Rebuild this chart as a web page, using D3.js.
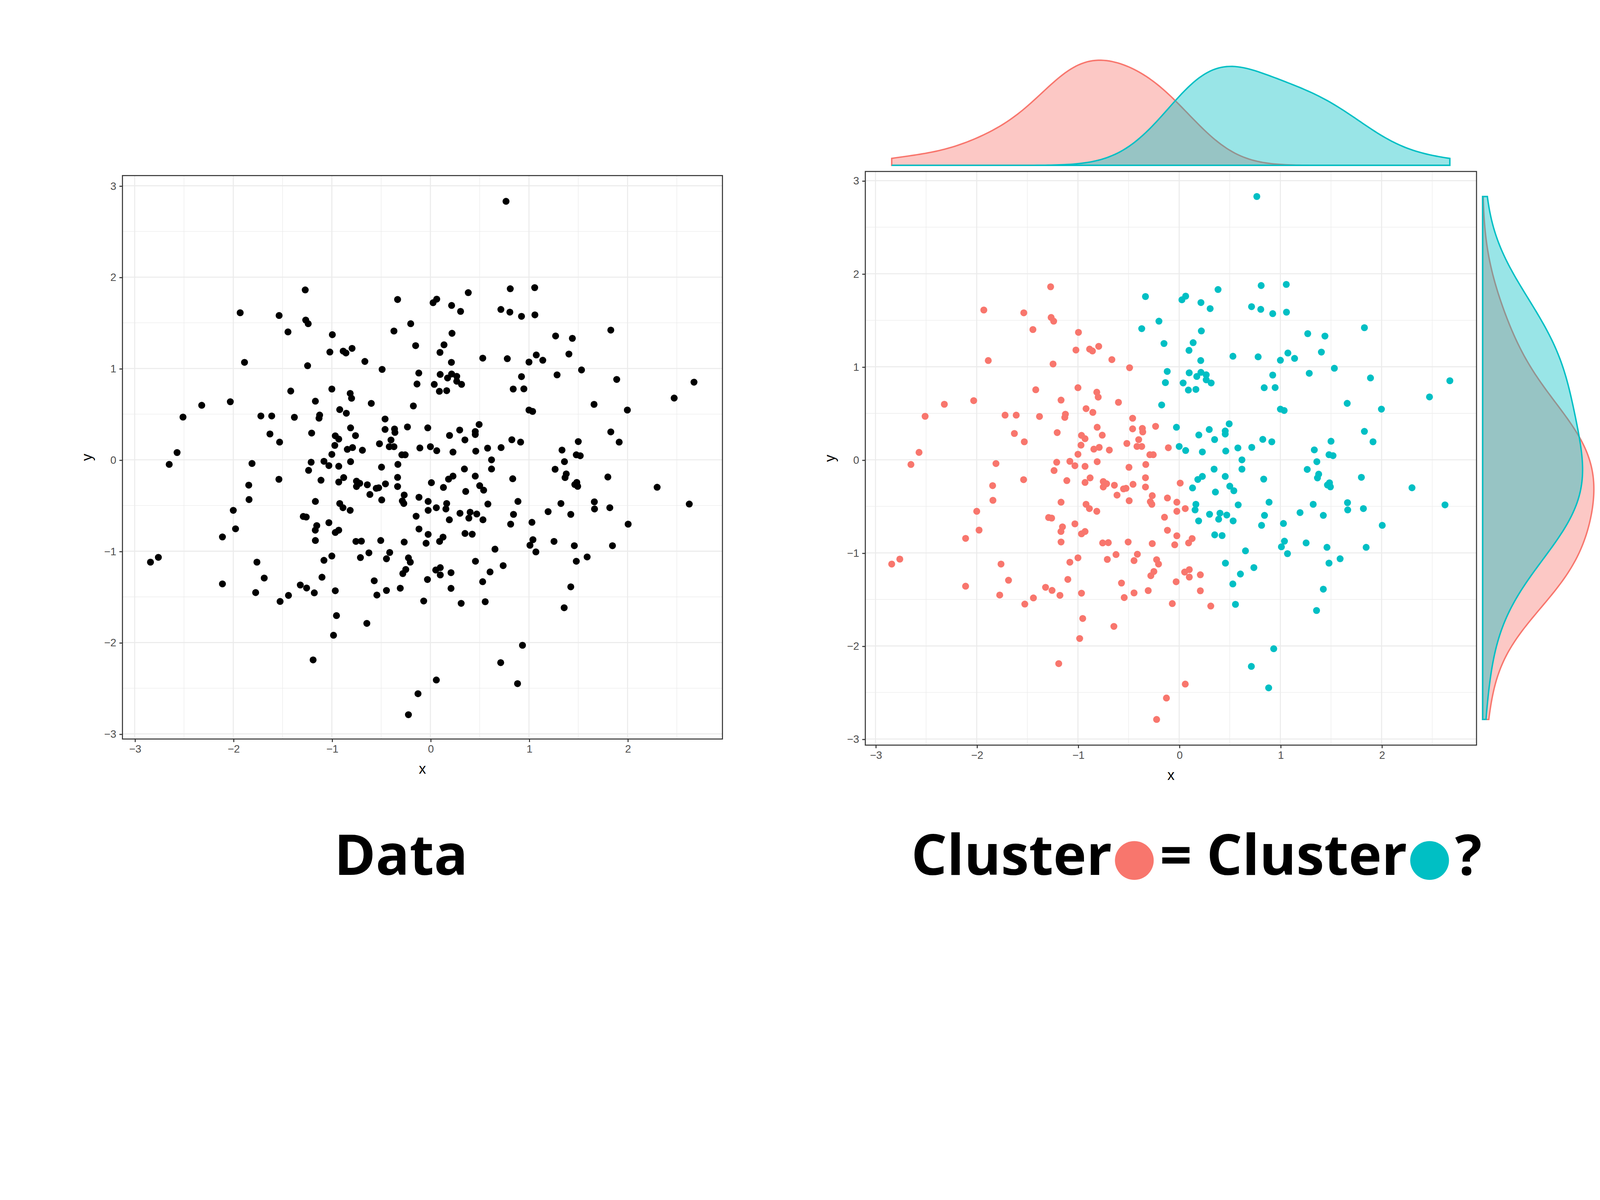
<!DOCTYPE html>
<html><head><meta charset="utf-8">
<script src="https://cdn.jsdelivr.net/npm/d3@7"></script>
<style>html,body{margin:0;padding:0;background:#fff;overflow:hidden}svg{display:block;width:100vw;height:calc(100vw * 3071 / 5540)}</style>
</head><body>
<svg id="c" viewBox="0 0 1568 869.2" preserveAspectRatio="xMidYMin meet"></svg>
<script>
// points (x, y)
var xs = [-1.27,-0.333,-1.93,-1.535,-1.265,-1.24,-0.20,-1.445,-0.37,-0.995,-0.15,-1.02,-0.885,-0.857,-0.795,-1.886,-1.246,-0.665,-0.49,-0.118,-0.136,-1.417,-1.0,-0.814,-0.80,-2.32,-2.03,-1.167,-0.60,-0.173,-2.51,-1.72,-1.61,-1.38,-1.124,-1.13,-0.92,-0.853,-0.46,-0.81,-0.364,-0.36,-0.233,-0.46,-1.628,-1.205,-0.76,-0.965,-0.93,-1.53,-0.40,-0.517,-0.97,-0.843,-0.79,-0.69,-0.417,-0.37,-0.107,-2.57,-1.0,-0.29,-0.256,
 -2.65,-1.81,-1.21,-1.08,-1.03,-0.93,-0.81,-0.496,-0.33,-1.236,-1.537,-1.843,-1.11,-0.93,-0.88,-0.75,-0.717,-0.75,-0.64,-0.55,-0.525,-0.456,-0.333,-0.333,-0.614,-0.494,-0.266,-0.285,-0.27,-0.116,-1.84,-1.167,-0.92,-0.887,-0.814,-2.0,-0.145,-1.29,-1.26,-1.153,-1.168,-1.03,-0.93,-0.965,-1.977,-0.116,-2.11,-1.167,-0.756,-0.70,-0.504,-0.266,-2.84,-2.76,-1.76,-1.08,-1.0,-0.71,-0.624,-0.413,-0.446,-0.223,-0.204,-0.25,-0.28,-1.686,-1.10,-0.57,-2.11,-1.32,-1.256,-1.178,-0.965,-0.446,-0.306,-1.773,-1.44,-1.525,-0.543,-0.953,-0.645,-0.983,-1.19,-0.126,-0.223,
 0.767,0.81,1.058,0.384,0.064,0.027,0.215,0.306,0.715,0.806,0.924,1.06,1.83,0.219,1.27,1.44,0.138,0.097,1.405,1.074,1.14,0.531,0.78,1.0,0.213,1.533,0.099,0.215,0.267,0.174,0.267,0.316,0.039,0.091,0.165,0.924,1.285,1.89,2.674,0.84,0.948,2.473,1.66,1.0,1.037,1.998,-0.027,0.494,0.297,0.455,0.455,0.194,0.35,0.826,0.915,1.83,1.50,1.915,0.0,0.064,0.229,0.46,0.58,0.717,1.335,1.48,1.52,
 0.62,0.62,1.36,0.345,1.265,1.378,1.366,0.229,0.184,0.455,0.835,1.8,0.01,0.132,0.5,0.54,0.358,1.485,1.494,1.465,2.3,-0.023,0.165,0.157,0.06,-0.023,0.888,0.583,1.324,1.663,1.665,1.82,2.626,0.3,0.403,0.39,0.47,0.192,0.533,0.843,0.814,1.194,1.424,1.03,2.006,-0.023,0.351,0.424,0.128,0.093,-0.044,1.04,1.01,1.07,1.254,1.46,1.847,0.655,1.59,1.48,0.457,0.738,0.054,0.1,0.1,0.209,0.605,-0.03,0.53,0.209,1.424,-0.068,0.312,0.556,1.357,0.934,0.713,0.06,0.884];
var ys = [1.86,1.755,1.61,1.58,1.53,1.49,1.49,1.40,1.41,1.37,1.25,1.18,1.19,1.17,1.22,1.067,1.03,1.077,0.99,0.95,0.83,0.753,0.775,0.727,0.674,0.597,0.636,0.642,0.618,0.59,0.468,0.48,0.48,0.466,0.49,0.456,0.55,0.51,0.447,0.35,0.338,0.30,0.36,0.333,0.283,0.293,0.265,0.263,0.227,0.194,0.217,0.176,0.158,0.115,0.134,0.105,0.144,0.144,0.13,0.08,0.06,0.055,0.055,
 -0.05,-0.04,-0.026,-0.016,-0.063,-0.07,-0.02,-0.08,-0.05,-0.115,-0.213,-0.277,-0.223,-0.243,-0.194,-0.233,-0.257,-0.292,-0.273,-0.312,-0.306,-0.263,-0.192,-0.292,-0.379,-0.439,-0.385,-0.45,-0.478,-0.41,-0.435,-0.455,-0.478,-0.524,-0.553,-0.553,-0.617,-0.62,-0.626,-0.72,-0.77,-0.688,-0.77,-0.795,-0.755,-0.757,-0.844,-0.883,-0.893,-0.89,-0.883,-0.9,-1.12,-1.067,-1.12,-1.10,-1.053,-1.07,-1.018,-1.014,-1.083,-1.073,-1.12,-1.2,-1.245,-1.294,-1.285,-1.324,-1.358,-1.37,-1.403,-1.456,-1.433,-1.43,-1.405,-1.453,-1.484,-1.55,-1.48,-1.705,-1.79,-1.92,-2.19,-2.56,-2.79,
 2.83,1.873,1.885,1.83,1.759,1.72,1.69,1.625,1.646,1.617,1.571,1.587,1.42,1.385,1.356,1.33,1.259,1.176,1.158,1.148,1.09,1.113,1.107,1.07,1.067,0.984,0.935,0.94,0.914,0.896,0.86,0.826,0.826,0.75,0.757,0.911,0.93,0.88,0.85,0.775,0.777,0.676,0.607,0.545,0.53,0.545,0.35,0.387,0.326,0.31,0.277,0.267,0.218,0.22,0.194,0.306,0.2,0.194,0.144,0.1,0.085,0.095,0.128,0.134,0.107,0.055,0.045,
 0.0,-0.1,-0.02,-0.1,-0.103,-0.154,-0.194,-0.178,-0.211,-0.178,-0.207,-0.188,-0.25,-0.302,-0.283,-0.332,-0.346,-0.247,-0.29,-0.27,-0.3,-0.455,-0.478,-0.538,-0.524,-0.553,-0.455,-0.484,-0.478,-0.46,-0.538,-0.524,-0.484,-0.585,-0.573,-0.638,-0.593,-0.656,-0.656,-0.597,-0.704,-0.567,-0.597,-0.684,-0.704,-0.816,-0.806,-0.814,-0.846,-0.893,-0.913,-0.874,-0.935,-1.008,-0.893,-0.94,-0.94,-0.978,-1.063,-1.11,-1.11,-1.158,-1.206,-1.18,-1.26,-1.235,-1.227,-1.31,-1.334,-1.407,-1.39,-1.545,-1.571,-1.553,-1.619,-2.03,-2.22,-2.41,-2.45];
var tickVals = [-3,-2,-1,0,1,2,3];
var clusterColors = ["#F8766D","#00BFC4"];

var pts = xs.map(function(x,i){return {x:x,y:ys[i]};});

// two-cluster k-means, seeded with extreme points
var c = [[d3.min(xs),0],[d3.max(xs),0]];
for (var it=0; it<50; it++) {
  pts.forEach(function(p){
    var d0=(p.x-c[0][0])**2+(p.y-c[0][1])**2, d1=(p.x-c[1][0])**2+(p.y-c[1][1])**2;
    p.k = d0<=d1?0:1;
  });
  c = [0,1].map(function(k){
    var s = pts.filter(function(p){return p.k===k;});
    return [d3.mean(s,function(p){return p.x;}), d3.mean(s,function(p){return p.y;})];
  });
}

var svg = d3.select("#c");
var font = "'Liberation Sans', Arial, sans-serif";

function panel(box, xr, yr, colorFn) {
  var x = d3.scaleLinear().domain([-3,2]).range(xr);
  var y = d3.scaleLinear().domain([-3,3]).range(yr);
  var g = svg.append("g");
  var grid = g.append("g");
  d3.range(-3,3.01,0.5).forEach(function(v){
    var major = Number.isInteger(v);
    if (x(v)>box.x0 && x(v)<box.x1)
      grid.append("line").attr("x1",x(v)).attr("x2",x(v)).attr("y1",box.y0).attr("y2",box.y1)
        .attr("stroke","#ebebeb").attr("stroke-width",major?1:0.5);
    if (y(v)>box.y0 && y(v)<box.y1)
      grid.append("line").attr("y1",y(v)).attr("y2",y(v)).attr("x1",box.x0).attr("x2",box.x1)
        .attr("stroke","#ebebeb").attr("stroke-width",major?1:0.5);
  });
  g.selectAll("circle.pt").data(pts).enter().append("circle")
    .attr("cx",function(d){return x(d.x);}).attr("cy",function(d){return y(d.y);})
    .attr("r",3.4).attr("fill",colorFn);
  g.append("rect").attr("x",box.x0).attr("y",box.y0).attr("width",box.x1-box.x0).attr("height",box.y1-box.y0)
    .attr("fill","none").attr("stroke","#333").attr("stroke-width",1);
  var xa = g.append("g").attr("transform","translate(0,"+box.y1+")")
    .call(d3.axisBottom(x).tickValues(tickVals.slice(0,6)).tickSize(3).tickPadding(3).tickFormat(d3.format("d")));
  var ya = g.append("g").attr("transform","translate("+box.x0+",0)")
    .call(d3.axisLeft(y).tickValues(tickVals).tickSize(3).tickPadding(3).tickFormat(d3.format("d")));
  [xa,ya].forEach(function(a){
    a.select(".domain").remove();
    a.selectAll("line").attr("stroke","#333");
    a.selectAll("text").attr("fill","#4d4d4d").style("font-family",font).style("font-size","10.5px");
  });
  g.append("text").attr("x",(box.x0+box.x1)/2).attr("y",box.y1+34).attr("text-anchor","middle")
    .style("font-family",font).style("font-size","14px").text("x");
  g.append("text").attr("transform","translate("+(box.x0-30)+","+((box.y0+box.y1)/2)+") rotate(-90)")
    .attr("text-anchor","middle").style("font-family",font).style("font-size","14px").text("y");
  return {x:x,y:y};
}

panel({x0:120,x1:708,y0:172,y1:724},[132,615],[719,182],function(){return "#000";});
var R = panel({x0:848,x1:1447,y0:168,y1:730},[858,1354],[724,177],function(d){return clusterColors[d.k];});

// marginal densities (gaussian kernel, nrd0 bandwidth widened)
var bwAdjust = 1.7;
function kde(vals, lo, hi) {
  var n = vals.length, sd = d3.deviation(vals);
  var srt = vals.slice().sort(d3.ascending);
  var q = d3.quantile(srt,0.75)-d3.quantile(srt,0.25);
  var bw = bwAdjust*0.9*Math.min(sd,q/1.34)*Math.pow(n,-0.2);
  return d3.range(0,201).map(function(i){
    var t = lo+(hi-lo)*i/200;
    var s = d3.sum(vals,function(v){var z=(t-v)/bw;return Math.exp(-0.5*z*z);});
    return [t, s/(n*bw*Math.sqrt(2*Math.PI))];
  });
}
var xlo=d3.min(xs), xhi=d3.max(xs), ylo=d3.min(ys), yhi=d3.max(ys);
var dx=[0,1].map(function(k){return kde(pts.filter(function(p){return p.k===k;}).map(function(p){return p.x;}),xlo,xhi);});
var dy=[0,1].map(function(k){return kde(pts.filter(function(p){return p.k===k;}).map(function(p){return p.y;}),ylo,yhi);});
var mx = d3.max(dx,function(a){return d3.max(a,function(d){return d[1];});});
var my = d3.max(dy,function(a){return d3.max(a,function(d){return d[1];});});
var hTop = d3.scaleLinear().domain([0,mx]).range([162,59]);
var wRight = d3.scaleLinear().domain([0,my]).range([1453,1562]);
[0,1].forEach(function(k){
  svg.append("path").datum(dx[k])
    .attr("d",d3.area().x(function(d){return R.x(d[0]);}).y0(162).y1(function(d){return hTop(d[1]);}))
    .attr("fill",clusterColors[k]).attr("fill-opacity",0.4)
    .attr("stroke",clusterColors[k]).attr("stroke-width",1.4);
  svg.append("path").datum(dy[k])
    .attr("d",d3.area().y(function(d){return R.y(d[0]);}).x0(1453).x1(function(d){return wRight(d[1]);}))
    .attr("fill",clusterColors[k]).attr("fill-opacity",0.4)
    .attr("stroke",clusterColors[k]).attr("stroke-width",1.4);
});

// titles
var tf = "'Open Sans', 'DejaVu Sans', sans-serif";
var fs = "55px";
svg.append("text").attr("x",393).attr("y",857).attr("text-anchor","middle")
  .style("font-family",tf).style("font-weight","bold").style("font-size",fs).text("Data");
var parts = ["Cluster", 0, "= Cluster", 1, "?"];
var cx = 893;
parts.forEach(function(p){
  if (typeof p === "number") {
    svg.append("circle").attr("cx",cx+22).attr("cy",843).attr("r",19).attr("fill",clusterColors[p]);
    cx += 47;
  } else {
    var t = svg.append("text").attr("x",cx).attr("y",857).style("font-family",tf)
      .style("font-weight","bold").style("font-size",fs).text(p);
    cx += t.node().getComputedTextLength();
  }
});
</script>
</body></html>
